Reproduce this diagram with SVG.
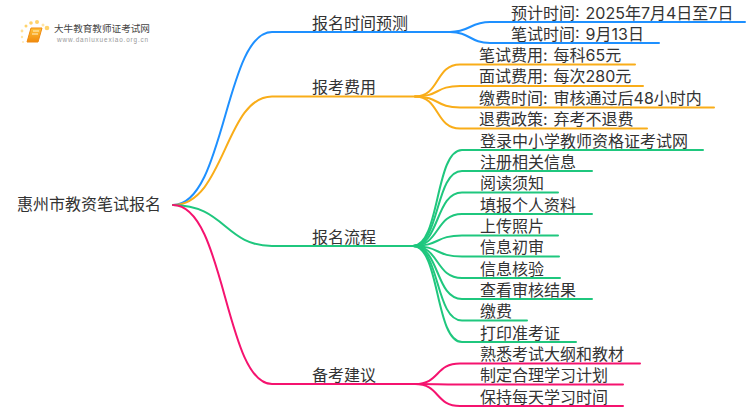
<svg xmlns="http://www.w3.org/2000/svg" width="750" height="410" viewBox="0 0 750 410">
<defs><linearGradient id="bk" x1="0" y1="0" x2="0" y2="1"><stop offset="0" stop-color="#ffc23a"/><stop offset="1" stop-color="#f08a0c"/></linearGradient></defs>
<style>
text{font-family:"Inter","Noto Sans CJK SC",sans-serif;fill:#333;font-size:16px;word-spacing:1.5px}
.c{fill:none;stroke-width:2;stroke-linecap:round}
.b{stroke:#1e90ff}.o{stroke:#f9ad19}.g{stroke:#1fc77e}.p{stroke:#f5136f}
.d{fill:#ffd36b}
</style>
<rect width="750" height="410" fill="#fff"/>
<g id="logo">
<circle class="d" cx="47" cy="28" r="2.3"/><circle class="d" cx="43" cy="25" r="1.5" opacity=".6"/><circle class="d" cx="37" cy="22" r="2"/><circle class="d" cx="31" cy="23" r="1.8"/><circle class="d" cx="26" cy="26" r="1.5"/><circle class="d" cx="22" cy="31" r="1.4" opacity=".7"/><circle class="d" cx="22" cy="37" r="1.2" opacity=".6"/><circle class="d" cx="23" cy="42" r="1" opacity=".5"/>
<path d="M31 28H42L38 42H27Z" fill="url(#bk)" stroke="#ef8a10" stroke-width="1"/>
<path d="M33 31H39M32 34H38" stroke="#fff2c8" stroke-width="1"/>
<text x="54" y="31.500" style="font-size:9.6px;fill:#444">大牛教育教师证考试网</text>
<text x="57" y="41.500" style="font-size:6.4px;fill:#999;font-family:'Liberation Sans',sans-serif;letter-spacing:.85px">www.daniuxuexiao.org.cn</text>
</g>
<g id="connectors">
<path class="c b" d="M173 205C225 205 225 32 272 32H450C470 32 470 22 490 22H745"/>
<path class="c b" d="M450 32C470 32 470 43 490 43H659"/>
<path class="c o" d="M173 205C225 205 225 96.500 272 96.500H415C440 96.500 435 64.500 460 64.500H635"/>
<path class="c o" d="M415 96.500C440 96.500 435 86 460 86H643"/>
<path class="c o" d="M415 96.500C440 96.500 435 107.500 460 107.500H714"/>
<path class="c o" d="M415 96.500C440 96.500 435 128.500 460 128.500H647"/>
<path class="c g" d="M173 205C225 205 225 246 272 246H413C440 246 435 150 462 150H703"/>
<path class="c g" d="M413 246C440 246 435 171 462 171H592"/>
<path class="c g" d="M413 246C440 246 435 192.500 462 192.500H558"/>
<path class="c g" d="M413 246C440 246 435 214 462 214H592"/>
<path class="c g" d="M413 246C440 246 435 235.500 462 235.500H558"/>
<path class="c g" d="M413 246C440 246 435 256.500 462 256.500H559"/>
<path class="c g" d="M413 246C440 246 435 278 462 278H560"/>
<path class="c g" d="M413 246C440 246 435 299 462 299H592"/>
<path class="c g" d="M413 246C440 246 435 320.500 462 320.500H527"/>
<path class="c g" d="M413 246C440 246 435 342 462 342H576"/>
<path class="c p" d="M173 205C225 205 225 384 272 384H415C440 384 435 363.500 460 363.500H640"/>
<path class="c p" d="M415 384C440 384 435 384.500 460 384.500H623"/>
<path class="c p" d="M415 384C440 384 435 406 460 406H623"/>
</g>
<g id="root"><text x="17" y="210">惠州市教资笔试报名</text></g>
<g id="n1"><text x="312" y="28.500">报名时间预测</text></g>
<g id="n1a"><text x="511" y="18.500">预计时间: 2025年7月4日至7日</text></g>
<g id="n1b"><text x="511" y="39.500">笔试时间: 9月13日</text></g>
<g id="n2"><text x="312" y="93">报考费用</text></g>
<g id="n2a"><text x="479" y="61">笔试费用: 每科65元</text></g>
<g id="n2b"><text x="479" y="82">面试费用: 每次280元</text></g>
<g id="n2c"><text x="479" y="103.500">缴费时间: 审核通过后48小时内</text></g>
<g id="n2d"><text x="479" y="125">退费政策: 弃考不退费</text></g>
<g id="n3"><text x="312" y="242.500">报名流程</text></g>
<g id="n3a"><text x="480" y="146.500">登录中小学教师资格证考试网</text></g>
<g id="n3b"><text x="480" y="167.500">注册相关信息</text></g>
<g id="n3c"><text x="480" y="189">阅读须知</text></g>
<g id="n3d"><text x="480" y="210.500">填报个人资料</text></g>
<g id="n3e"><text x="480" y="232">上传照片</text></g>
<g id="n3f"><text x="480" y="253">信息初审</text></g>
<g id="n3g"><text x="480" y="274.500">信息核验</text></g>
<g id="n3h"><text x="480" y="295.500">查看审核结果</text></g>
<g id="n3i"><text x="480" y="317">缴费</text></g>
<g id="n3j"><text x="480" y="338.500">打印准考证</text></g>
<g id="n4"><text x="312" y="380.500">备考建议</text></g>
<g id="n4a"><text x="480" y="360">熟悉考试大纲和教材</text></g>
<g id="n4b"><text x="480" y="381">制定合理学习计划</text></g>
<g id="n4c"><text x="480" y="402.500">保持每天学习时间</text></g>
</svg>
